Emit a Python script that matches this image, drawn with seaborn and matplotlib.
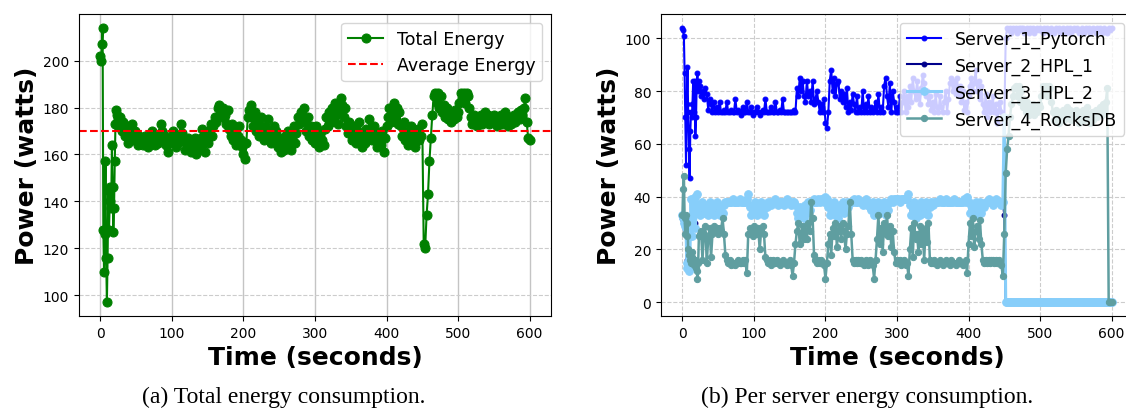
import pandas as pd
import matplotlib
matplotlib.use("Agg")
import matplotlib.pyplot as plt
import seaborn as sns

# sample times: 1 s steps for the first 24 s, then 2 s steps
time_s = list(range(0, 24)) + list(range(24, 601, 2))

total_energy = [
    202, 200, 207, 214, 128, 110, 126, 157, 116, 97, 116, 145, 128, 140, 146, 137, 164, 146, 127, 137, 157, 173, 179, 177,
    175, 172, 176, 170, 174, 168, 172, 165, 172, 168, 173, 166, 170,
    167, 164, 168, 165, 167, 164, 168, 166, 163, 167, 165, 170, 166, 164, 167, 165, 168, 173, 170, 166, 168, 164, 161, 165, 167,
    166, 170, 167, 163, 165, 168, 173, 169, 166, 162, 165, 167, 164, 161, 166, 163, 167, 160, 164, 162, 167, 171, 165, 161, 168,
    165, 170, 173, 168, 172, 176, 174, 180, 181, 178, 176, 180, 177, 173, 179, 171, 168, 173, 166, 170, 164, 168, 172, 166, 163,
    160, 158, 165, 176, 179, 181, 176, 172, 178, 170, 174, 168, 176, 171, 166, 172, 168, 175, 170, 165, 168, 172, 166, 170, 163,
    167, 161, 165, 162, 168, 164, 170, 166, 162, 167, 172, 165, 169, 176, 173, 178, 175, 180, 174, 170, 176, 168, 172, 166, 170,
    165, 172, 168, 163, 170, 166, 164, 171, 176, 172, 178, 174, 180, 176, 182, 177, 173, 179, 184, 181, 176, 180, 172, 169, 174,
    170, 166, 172, 168, 165, 170, 174, 167, 163, 169, 165, 171, 167, 175, 170, 166, 172, 168, 163, 169, 166, 164, 170, 161, 167,
    172, 176, 180, 174, 178, 182, 176, 180, 173, 178, 172, 168, 174, 166, 170, 164, 168, 172, 165, 169, 163, 167, 171, 166, 168,
    173, 122, 120, 134, 143, 157, 167, 177, 185, 186, 182, 186, 180, 185, 178, 181, 176, 180, 175, 178, 174, 177, 175, 179, 176,
    178, 182, 186, 184, 186, 182, 186, 185, 180, 176, 173, 177, 175, 172, 176, 174, 177, 173, 176, 178, 175, 177, 173, 176, 174,
    177, 175, 172, 176, 174, 177, 173, 175, 178, 174, 172, 176, 173, 175, 177, 174, 176, 178, 175, 179, 177, 180, 184, 174, 167, 166,
]
average_energy = 170.2

server_1 = [
    104, 103, 101, 87, 70, 52, 75, 89, 72, 58, 47, 65, 72, 70, 75, 84, 72, 84, 63, 70, 84, 87, 80, 84,
    82, 78, 80, 77, 81, 79, 73, 77, 75, 72, 76, 72, 74,
    72, 76, 72, 72, 73, 72, 76, 72, 72, 73, 72, 72, 77, 72, 73, 72, 71, 74, 72, 72, 76, 72, 72, 74, 71,
    72, 72, 74, 72, 71, 72, 73, 72, 77, 72, 72, 72, 74, 72, 72, 76, 72, 72, 73, 72, 77, 72, 72, 72, 72,
    72, 72, 72, 73, 72, 81, 78, 85, 80, 84, 78, 76, 84, 78, 80, 76, 84, 75, 77, 80, 76, 72, 75, 72, 77,
    68, 66, 72, 84, 88, 80, 85, 78, 83, 84, 77, 80, 76, 79, 74, 81, 72, 76, 73, 79, 75, 72, 78, 72, 74,
    72, 80, 72, 75, 72, 78, 72, 74, 72, 73, 76, 72, 79, 72, 74, 72, 82, 85, 78, 74, 83, 72, 80, 76, 72,
    74, 72, 78, 72, 76, 80, 72, 78, 74, 82, 76, 85, 80, 77, 84, 79, 75, 81, 86, 83, 78, 80, 75, 78, 73,
    76, 72, 79, 74, 72, 78, 74, 72, 76, 80, 72, 77, 83, 85, 80, 84, 79, 85, 78, 82, 76, 80, 73, 76, 72,
    78, 82, 85, 80, 83, 88, 80, 84, 77, 82, 75, 72, 79, 70, 76, 72, 74, 78, 72, 75, 68, 73, 76, 72, 70,
    68, 100, 104, 103, 104, 102, 104, 103, 104, 102, 104, 103, 104, 104, 102, 103, 104, 102, 104, 103, 104, 102, 103, 104, 103,
    104, 103, 102, 104, 103, 104, 102, 103, 104, 103, 102, 104, 103, 104, 102, 103, 104, 103, 102, 104, 103, 104, 102, 103, 104,
    103, 104, 102, 103, 104, 103, 102, 104, 103, 104, 102, 103, 104, 103, 102, 104, 103, 104, 102, 103, 104, 103, 102, 104, 103, 104,
]

# Server_2 sits almost exactly under Server_3 after the first seconds
server_2 = [
    32, 31, 30, 28, 29, 27, 16, 14, 15, 13, 30, 31, 29, 33, 31, 35, 33, 36, 30, 34, 37, 36, 34, 35,
    33, 36, 38, 34, 37, 35, 33, 38, 34, 36, 33, 37, 38,
    34, 33, 36, 34, 37, 38, 38, 38, 38, 38, 39, 38, 38, 38, 38, 39, 38, 38, 38, 38, 39, 41, 36, 33, 37,
    34, 38, 33, 36, 34, 38, 35, 33, 37, 36, 38, 38, 37, 38, 38, 39, 38, 37, 38, 38, 38, 37, 38, 39, 38,
    38, 37, 38, 38, 37, 34, 32, 36, 33, 35, 32, 37, 34, 38, 35, 38, 38, 39, 38, 38, 39, 38, 39, 39, 38,
    40, 39, 36, 33, 37, 34, 38, 33, 36, 32, 37, 35, 38, 34, 37, 38, 36, 38, 38, 38, 39, 38, 38, 39, 38,
    38, 37, 38, 39, 37, 38, 36, 35, 38, 33, 37, 35, 38, 34, 37, 36, 38, 33, 37, 35, 38, 39, 38, 39, 39,
    39, 39, 38, 39, 39, 39, 39, 39, 41, 37, 33, 36, 38, 32, 35, 37, 33, 38, 36, 34, 38, 37, 33, 36, 38,
    37, 38, 38, 38, 38, 39, 38, 38, 38, 39, 38, 38, 38, 38, 38, 39, 38, 38, 38, 38, 38, 38, 39, 38, 40,
    38, 34, 37, 33, 36, 38, 33, 35, 38, 34, 37, 36, 38, 38, 39, 38, 38, 37, 38, 39, 38, 38, 38, 37, 38,
    33,
] + [0] * 75

server_3 = [
    33, 32, 30, 29, 31, 28, 15, 13, 14, 12, 13, 25, 39, 30, 25, 33, 38, 40, 28, 35, 41, 37, 34, 36,
    33, 36, 38, 34, 37, 35, 33, 38, 34, 36, 33, 37, 38,
    34, 33, 36, 34, 37, 38, 38, 38, 38, 38, 39, 38, 38, 38, 38, 39, 38, 38, 38, 38, 39, 41, 36, 33, 37,
    34, 38, 33, 36, 34, 38, 35, 33, 37, 36, 38, 38, 37, 38, 38, 39, 38, 37, 38, 38, 38, 37, 38, 39, 38,
    38, 37, 38, 38, 37, 34, 32, 36, 33, 35, 32, 37, 34, 38, 35, 38, 38, 39, 38, 38, 39, 38, 39, 39, 38,
    40, 39, 36, 33, 37, 34, 38, 33, 36, 32, 37, 35, 38, 34, 37, 38, 36, 38, 38, 38, 39, 38, 38, 39, 38,
    38, 37, 38, 39, 37, 38, 36, 35, 38, 33, 37, 35, 38, 34, 37, 36, 38, 33, 37, 35, 38, 39, 38, 39, 39,
    39, 39, 38, 39, 39, 39, 39, 39, 41, 37, 33, 36, 38, 32, 35, 37, 33, 38, 36, 34, 38, 37, 33, 36, 38,
    37, 38, 38, 38, 38, 39, 38, 38, 38, 39, 38, 38, 38, 38, 38, 39, 38, 38, 38, 38, 38, 38, 39, 38, 40,
    38, 34, 37, 33, 36, 38, 33, 35, 38, 34, 37, 36, 38, 38, 39, 38, 38, 37, 38, 39, 38, 38, 38, 37, 38,
    70,
] + [0] * 75

server_4 = [
    33, 43, 48, 32, 26, 33, 25, 30, 20, 18, 19, 16, 15, 19, 17, 15, 14, 16, 15, 13, 12, 9, 15, 25,
    26, 27, 16, 26, 29, 15, 24, 28, 17, 26, 29, 27, 28,
    26, 28, 27, 32, 26, 18, 16, 15, 16, 14, 15, 15, 14, 15, 16, 15, 15, 16, 15, 16, 11, 26, 28, 27, 25,
    29, 27, 26, 28, 20, 27, 29, 26, 17, 16, 15, 16, 14, 16, 15, 15, 16, 15, 14, 15, 16, 15, 15, 14, 15,
    16, 14, 10, 15, 22, 27, 30, 22, 26, 29, 24, 27, 24, 30, 27, 38, 32, 18, 16, 15, 16, 15, 16, 15, 14,
    9, 15, 22, 26, 18, 28, 25, 30, 21, 27, 29, 24, 30, 27, 20, 26, 29, 38, 26, 16, 15, 16, 15, 16, 15,
    16, 15, 14, 16, 15, 14, 16, 15, 14, 9, 16, 24, 33, 22, 28, 19, 30, 26, 33, 25, 29, 21, 27, 19, 15,
    16, 15, 16, 14, 15, 16, 14, 15, 10, 20, 28, 17, 30, 24, 26, 19, 29, 22, 27, 16, 28, 23, 30, 16, 15,
    15, 16, 15, 14, 15, 16, 15, 14, 15, 16, 15, 15, 14, 16, 15, 15, 14, 15, 16, 15, 15, 14, 15, 16, 11,
    22, 30, 25, 32, 21, 27, 29, 24, 31, 22, 16, 15, 16, 15, 16, 15, 16, 16, 15, 16, 15, 16, 15, 14, 10,
    26, 49, 58, 63, 70, 75, 78, 81, 82, 78, 82, 76, 80, 74, 77, 72, 76, 71, 74, 73, 75, 71, 73, 72, 75,
    74, 78, 82, 80, 82, 78, 82, 81, 76, 72, 69, 73, 71, 68, 72, 70, 73, 69, 72, 74, 71, 73, 69, 72, 70,
    73, 71, 68, 72, 70, 73, 69, 71, 74, 70, 68, 72, 69, 71, 73, 70, 72, 74, 71, 75, 73, 76, 81, 0, 0, 0,
]

servers = ["Server_1_Pytorch", "Server_2_HPL_1", "Server_3_HPL_2", "Server_4_RocksDB"]

df = pd.DataFrame({"time": time_s, "total": total_energy,
                   servers[0]: server_1, servers[1]: server_2,
                   servers[2]: server_3, servers[3]: server_4})

fig = plt.figure(figsize=(11.26, 4.10), dpi=100)
ax1 = fig.add_axes([79 / 1126, 93 / 410, 472 / 1126, 302 / 410])
ax2 = fig.add_axes([661 / 1126, 93 / 410, 472 / 1126, 302 / 410])

# (a) total energy
ax1.grid(axis="x", color="#c4c4c4", linewidth=1.0)
ax1.grid(axis="y", color="#cccccc", linestyle="--", linewidth=0.8)
sns.lineplot(data=df, x="time", y="total", ax=ax1, color="green", marker="o",
             markersize=6.5, markeredgecolor="green", linewidth=1.5, label="Total Energy")
ax1.axhline(average_energy, color="red", linestyle="--", linewidth=1.5, label="Average Energy")
ax1.legend(loc="upper right", fontsize=12.5)

# (b) per server
ax2.grid(True, color="#cccccc", linestyle="--", linewidth=0.8)
styles = {
    servers[0]: dict(color="blue", markersize=3.5, linewidth=1.5),
    servers[1]: dict(color="darkblue", markersize=3.5, linewidth=1.5),
    servers[2]: dict(color="lightskyblue", markersize=5.5, linewidth=2.2),
    servers[3]: dict(color="cadetblue", markersize=4.5, linewidth=1.8),
}
for name in servers:
    st = styles[name]
    sns.lineplot(data=df, x="time", y=name, ax=ax2, marker="o",
                 markeredgecolor=st["color"], label=name, **st)
ax2.legend(loc="upper right", fontsize=12.5)

for ax in (ax1, ax2):
    ax.set_xlabel("Time (seconds)", fontsize=18, fontweight="bold")
    ax.set_ylabel("Power (watts)", fontsize=18, fontweight="bold", labelpad=3)
    ax.tick_params(labelsize=10)

fig.text(284 / 1126, 0.03, "(a) Total energy consumption.", family="Liberation Serif",
         fontsize=17, ha="center", va="center")
fig.text(867 / 1126, 0.03, "(b) Per server energy consumption.", family="Liberation Serif",
         fontsize=17, ha="center", va="center")

fig.savefig("out.png", dpi=100)
